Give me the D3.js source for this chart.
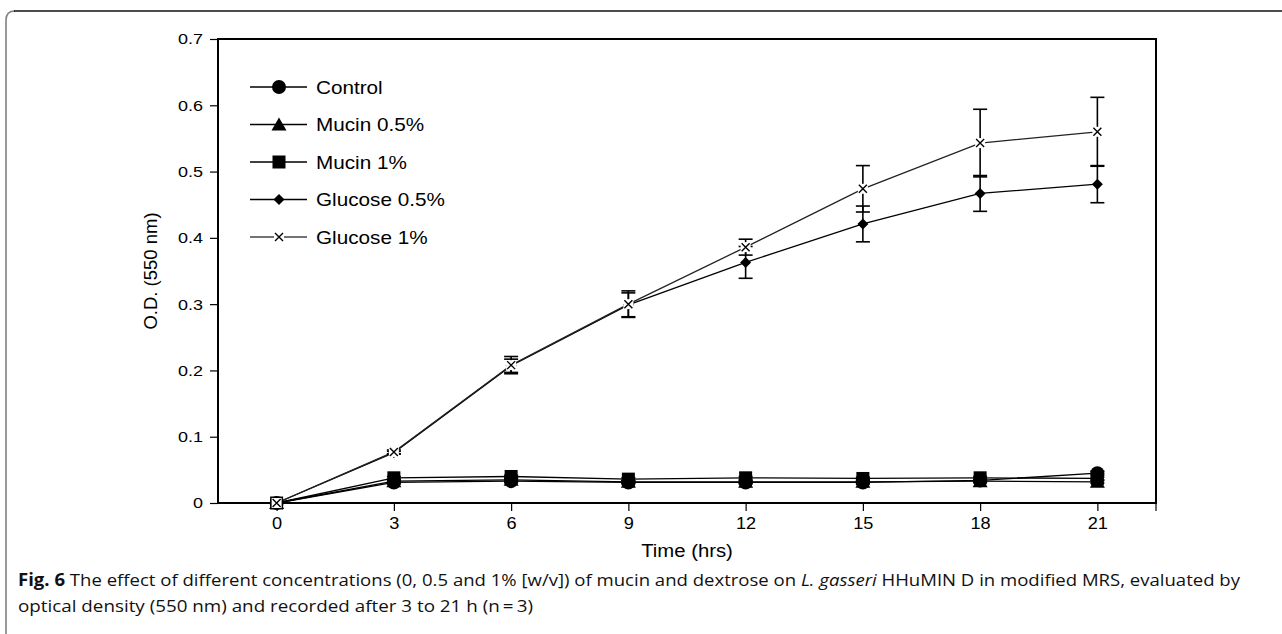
<!DOCTYPE html>
<html>
<head>
<meta charset="utf-8">
<script src="https://cdn.jsdelivr.net/npm/d3@7"></script>
<style>
  html, body { margin: 0; padding: 0; background: #fff; }
  svg { display: block; }
</style>
</head>
<body>
<svg id="chart" width="1282" height="634"></svg>
<script>
// ---- Data ----
const hours = [0, 3, 6, 9, 12, 15, 18, 21];
const xTickLabels = ["0", "3", "6", "9", "12", "15", "18", "21"];
const yTickValues = [0, 0.1, 0.2, 0.3, 0.4, 0.5, 0.6, 0.7];
const yTickLabels = ["0", "0.1", "0.2", "0.3", "0.4", "0.5", "0.6", "0.7"];
const seriesNames = ["Control", "Mucin 0.5%", "Mucin 1%", "Glucose 0.5%", "Glucose 1%"];
const control   = [0, 0.031, 0.033, 0.031, 0.031, 0.031, 0.034, 0.045];
const mucin05   = [0, 0.033, 0.035, 0.032, 0.032, 0.032, 0.033, 0.032];
const mucin1    = [0, 0.038, 0.040, 0.036, 0.038, 0.037, 0.038, 0.037];
const glucose05 = [0, 0.076, 0.207, 0.299, 0.363, 0.421, 0.467, 0.481];
const glucose1  = [0, 0.077, 0.208, 0.300, 0.386, 0.474, 0.543, 0.560];
const controlErr   = [0, 0.002, 0.002, 0.002, 0.002, 0.002, 0.002, 0.003];
const mucin05Err   = [0, 0.002, 0.002, 0.002, 0.002, 0.002, 0.002, 0.002];
const mucin1Err    = [0, 0.002, 0.002, 0.002, 0.002, 0.002, 0.002, 0.002];
const glucose05Err = [0, 0.002, 0.010, 0.018, 0.024, 0.027, 0.027, 0.028];
const glucose1Err  = [0, 0.003, 0.013, 0.020, 0.012, 0.035, 0.051, 0.052];
const axisTitleX = "Time (hrs)";
const axisTitleY = "O.D. (550 nm)";
const captionBold = "Fig. 6";
const captionLine1 = "The effect of different concentrations (0, 0.5 and 1% [w/v]) of mucin and dextrose on ";
const captionItalic = "L. gasseri";
const captionLine1b = " HHuMIN D in modified MRS, evaluated by";
const captionLine2 = "optical density (550 nm) and recorded after 3 to 21 h (n\u2009=\u20093)";

const series = [
  { name: seriesNames[0], values: control,   err: controlErr,   marker: "circle" },
  { name: seriesNames[1], values: mucin05,   err: mucin05Err,   marker: "triangle" },
  { name: seriesNames[2], values: mucin1,    err: mucin1Err,    marker: "square" },
  { name: seriesNames[3], values: glucose05, err: glucose05Err, marker: "diamond" },
  { name: seriesNames[4], values: glucose1,  err: glucose1Err,  marker: "times" }
];

// ---- Layout ----
const svg = d3.select("#chart");
const plot = { left: 218, right: 1156, top: 39, bottom: 503 };
const font = "'Liberation Sans', Arial, sans-serif";
const SX = 1.16; // horizontal stretch of chart text

const x = d3.scaleLinear().domain([-1.5, 22.5]).range([plot.left, plot.right]);
const y = d3.scaleLinear().domain([0, 0.7]).range([plot.bottom, plot.top]);

// Outer figure frame (rounded top-left corner)
svg.append("path")
  .attr("d", "M6,634 L6,20 Q6,11 15,11")
  .attr("fill", "none").attr("stroke", "#808080").attr("stroke-width", 1.6);
svg.append("path")
  .attr("d", "M14,11 L1282,11")
  .attr("fill", "none").attr("stroke", "#111").attr("stroke-width", 1.6);

// Axes
const xAxis = d3.axisBottom(x).tickValues(hours).tickSize(8)
  .tickFormat((d, i) => xTickLabels[i]);
const gx = svg.append("g").attr("transform", `translate(0,${plot.bottom})`).call(xAxis);
gx.select(".domain").remove();
gx.selectAll(".tick line").attr("stroke", "#000").attr("stroke-width", 1.2);
gx.selectAll(".tick text").attr("font-family", font).attr("font-size", 16.5).attr("fill", "#000")
  .attr("y", 14).attr("dy", "0.71em").attr("transform", "scale(1.1,1)");

const yAxis = d3.axisLeft(y).tickValues(yTickValues).tickSize(8)
  .tickFormat((d, i) => yTickLabels[i]);
const gy = svg.append("g").attr("transform", `translate(${plot.left},0)`).call(yAxis);
gy.select(".domain").remove();
gy.selectAll(".tick line").attr("stroke", "#000").attr("stroke-width", 1.2);
gy.selectAll(".tick text").attr("font-family", font).attr("font-size", 15.5).attr("fill", "#000")
  .attr("x", -15 / SX).attr("transform", `scale(${SX},1)`);

// end tick at right of x axis
svg.append("line")
  .attr("x1", x(22.5)).attr("x2", x(22.5))
  .attr("y1", plot.bottom).attr("y2", plot.bottom + 8)
  .attr("stroke", "#000").attr("stroke-width", 1.2);

// Plot box
svg.append("rect")
  .attr("x", plot.left).attr("y", plot.top)
  .attr("width", plot.right - plot.left).attr("height", plot.bottom - plot.top)
  .attr("fill", "none").attr("stroke", "#000").attr("stroke-width", 2);

// Axis titles
svg.append("text")
  .attr("transform", `translate(${(plot.left + plot.right) / 2},557) scale(${SX},1)`)
  .attr("text-anchor", "middle").attr("font-family", font).attr("font-size", 17.5)
  .text(axisTitleX);
svg.append("text")
  .attr("transform", `translate(157,${(plot.top + plot.bottom) / 2}) rotate(-90)`)
  .attr("text-anchor", "middle").attr("font-family", font).attr("font-size", 18.5)
  .text(axisTitleY);

// Marker drawing
function drawMarker(g, type, cx, cy) {
  if (type === "circle") {
    g.append("circle").attr("cx", cx).attr("cy", cy).attr("r", 7).attr("fill", "#000");
  } else if (type === "triangle") {
    g.append("path").attr("d", `M${cx},${cy - 7} L${cx + 7.5},${cy + 6} L${cx - 7.5},${cy + 6} Z`).attr("fill", "#000");
  } else if (type === "square") {
    g.append("rect").attr("x", cx - 6.5).attr("y", cy - 6.5).attr("width", 13).attr("height", 13).attr("fill", "#000");
  } else if (type === "diamond") {
    g.append("path").attr("d", `M${cx},${cy - 5.5} L${cx + 5.5},${cy} L${cx},${cy + 5.5} L${cx - 5.5},${cy} Z`).attr("fill", "#000");
  } else if (type === "times") {
    g.append("rect").attr("x", cx - 5).attr("y", cy - 5).attr("width", 10).attr("height", 10).attr("fill", "#fff");
    g.append("path")
      .attr("d", `M${cx - 4},${cy - 4} L${cx + 4},${cy + 4} M${cx + 4},${cy - 4} L${cx - 4},${cy + 4}`)
      .attr("stroke", "#000").attr("stroke-width", 1.4).attr("fill", "none");
  }
}

const line = d3.line().x(d => x(d[0])).y(d => y(d[1]));

// Lines
series.forEach(s => {
  const pts = hours.map((h, i) => [h, s.values[i]]);
  svg.append("path").datum(pts)
    .attr("d", line)
    .attr("fill", "none")
    .attr("stroke", s.marker === "times" ? "#222" : "#000")
    .attr("stroke-width", 1.3);
});

// Error bars
series.forEach(s => {
  const g = svg.append("g").attr("stroke", "#000").attr("stroke-width", 1.6);
  hours.forEach((h, i) => {
    const e = s.err[i];
    if (e <= 0) return;
    const cx = x(h);
    const y1 = y(s.values[i] - e), y2 = y(s.values[i] + e);
    g.append("line").attr("x1", cx).attr("x2", cx).attr("y1", y1).attr("y2", y2);
    g.append("line").attr("x1", cx - 7).attr("x2", cx + 7).attr("y1", y1).attr("y2", y1);
    g.append("line").attr("x1", cx - 7).attr("x2", cx + 7).attr("y1", y2).attr("y2", y2);
  });
});

// Markers
series.forEach(s => {
  const g = svg.append("g");
  hours.forEach((h, i) => drawMarker(g, s.marker, x(h), y(s.values[i])));
});

// Legend
const legendTop = 87, legendStep = 37.5;
series.forEach((s, i) => {
  const ly = legendTop + i * legendStep;
  const g = svg.append("g");
  g.append("line").attr("x1", 250).attr("x2", 307).attr("y1", ly).attr("y2", ly)
    .attr("stroke", s.marker === "times" ? "#444" : "#000").attr("stroke-width", 1.3);
  drawMarker(g, s.marker, 279, ly);
  g.append("text").attr("transform", `translate(316,${ly + 6.5}) scale(1.17,1)`)
    .attr("font-family", font).attr("font-size", 17.7).attr("fill", "#000")
    .text(s.name);
});

// Caption
const capFont = "'Open Sans', 'Noto Sans', sans-serif";
const c1 = svg.append("text").attr("x", 18).attr("y", 586)
  .attr("font-family", capFont).attr("font-size", 17).attr("fill", "#111")
  .attr("textLength", 1222).attr("lengthAdjust", "spacingAndGlyphs");
c1.append("tspan").attr("font-weight", "bold").text(captionBold + "  ");
c1.append("tspan").text(captionLine1);
c1.append("tspan").attr("font-style", "italic").text(captionItalic);
c1.append("tspan").text(captionLine1b);
svg.append("text").attr("x", 18).attr("y", 612)
  .attr("font-family", capFont).attr("font-size", 17).attr("fill", "#111")
  .attr("textLength", 515).attr("lengthAdjust", "spacingAndGlyphs")
  .text(captionLine2);
</script>
</body>
</html>
